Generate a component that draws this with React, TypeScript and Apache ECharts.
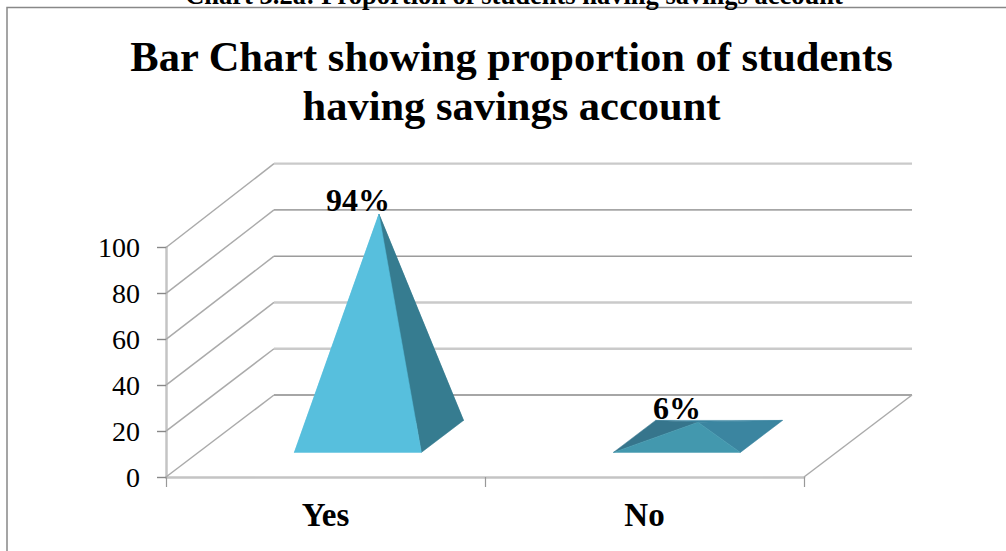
import React, { useEffect, useRef } from "react";
import * as echarts from "echarts";

const captionText = "Chart 3.2a: Proportion of students having savings account";
const titleText = "Bar Chart showing proportion of students\nhaving savings account";
const categories = ["Yes", "No"];
const percentValues = [94, 6];
const axisTicks = [0, 20, 40, 60, 80, 100];

const SERIF = '"Liberation Serif", "Times New Roman", serif';
const DEPTH_X = 108;
const DEPTH_Y = 82;
const BACK_SCALE = 1.008;
const HEIGHT_SCALE = 1.03;
const FLOOR_NEAR = 0.3;
const FLOOR_FAR = 0.69;
const BAR_RATIO = 0.398;
const TALL_COLORS = { front: "#57BFDD", left: "#57BFDD", right: "#367C90" };
const FLAT_COLORS = { front: "#4398AE", left: "#36758C", right: "#3B85A0" };
const WALL_STYLE: Record<number, { stroke: string; lineWidth: number }> = {
  0: { stroke: "#A6A6A6", lineWidth: 1.8 },
  20: { stroke: "#CACACA", lineWidth: 2.4 },
  40: { stroke: "#CACACA", lineWidth: 2.4 },
  60: { stroke: "#9C9C9C", lineWidth: 1.6 },
  80: { stroke: "#A6A6A6", lineWidth: 1.8 },
  100: { stroke: "#CACACA", lineWidth: 2.4 },
};

export default function App() {
  const ref = useRef<HTMLDivElement>(null);
  useEffect(() => {
    document.body.style.margin = "0";
    const chart = echarts.init(ref.current!, null, { renderer: "svg" });
    chart.setOption({
      animation: false,
      backgroundColor: "#fff",
      title: [
        {
          text: captionText,
          left: 509,
          top: -24,
          textAlign: "center",
          textStyle: { fontFamily: SERIF, fontSize: 26.5, fontWeight: "bold", color: "#000" },
        },
        {
          text: titleText,
          left: 506.5,
          top: 27,
          textAlign: "center",
          textStyle: { fontFamily: SERIF, fontSize: 42.5, fontWeight: "bold", color: "#000", lineHeight: 49 },
        },
      ],
      graphic: [
        {
          type: "polyline",
          shape: { points: [[7, 551], [7, 7.5], [1006, 7.5]] },
          style: { stroke: "#888", lineWidth: 1.5, fill: "none" },
        },
      ],
      grid: { left: 166, right: 202, top: 247.5, height: 229.5 },
      xAxis: {
        type: "category",
        data: categories,
        axisLine: { show: true, lineStyle: { color: "#C4C4C4", width: 2.5 } },
        axisTick: { show: true, length: 10, lineStyle: { color: "#999", width: 1.2 } },
        axisLabel: { fontFamily: SERIF, fontSize: 33, fontWeight: "bold", color: "#000", margin: 21 },
      },
      yAxis: {
        type: "value",
        min: 0,
        max: 100,
        interval: 20,
        splitLine: { show: false },
        axisLine: { show: true, lineStyle: { color: "#C4C4C4", width: 2.5 } },
        axisTick: { show: true, length: 9, lineStyle: { color: "#888", width: 1.4 } },
        axisLabel: { fontFamily: SERIF, fontSize: 28, color: "#000", margin: 26, padding: [7, 0, 0, 0] },
      },
      series: [
        {
          type: "custom",
          coordinateSystem: "cartesian2d",
          z: 1,
          silent: true,
          clip: false,
          encode: { x: 0, y: 1 },
          data: axisTicks.map((t) => [0, t]),
          renderItem: (_p: any, api: any) => {
            const v = api.value(1);
            const band = api.size([1, 0])[0];
            const [cx, y] = api.coord([0, v]);
            const [, y0] = api.coord([0, 0]);
            const [cxEnd] = api.coord([1, 0]);
            const xL = cx - band / 2;
            const xR = cxEnd + band / 2;
            const yBack = y0 - DEPTH_Y - (y0 - y) * BACK_SCALE;
            const children: any[] = [
              {
                type: "line",
                shape: { x1: xL, y1: y, x2: xL + DEPTH_X, y2: yBack },
                style: { stroke: "#ABABAB", lineWidth: 1.5 },
              },
              {
                type: "line",
                shape: { x1: xL + DEPTH_X, y1: yBack, x2: xR + DEPTH_X, y2: yBack },
                style: WALL_STYLE[v],
              },
            ];
            if (v === 0) {
              children.push({
                type: "line",
                shape: { x1: xR, y1: y0, x2: xR + DEPTH_X, y2: yBack },
                style: { stroke: "#ABABAB", lineWidth: 1.5 },
              });
            }
            return { type: "group", children };
          },
        },
        {
          type: "custom",
          coordinateSystem: "cartesian2d",
          z: 3,
          silent: true,
          clip: false,
          encode: { x: 0, y: 1 },
          data: percentValues.map((v, i) => [i, v]),
          renderItem: (_p: any, api: any) => {
            const idx = api.value(0);
            const v = api.value(1);
            const band = api.size([1, 0])[0];
            const half = (band * BAR_RATIO) / 2;
            const [cx, y0] = api.coord([idx, 0]);
            const [, yV] = api.coord([idx, v]);
            const colors = v > 50 ? TALL_COLORS : FLAT_COLORS;
            const pt = (f: number, side: number): number[] => [
              cx + f * DEPTH_X + side * half,
              y0 - f * DEPTH_Y,
            ];
            const fl = pt(FLOOR_NEAR, -1);
            const fr = pt(FLOOR_NEAR, 1);
            const bl = pt(FLOOR_FAR, -1);
            const br = pt(FLOOR_FAR, 1);
            const mid = pt((FLOOR_NEAR + FLOOR_FAR) / 2, 0);
            const apex = [mid[0], mid[1] - (y0 - yV) * HEIGHT_SCALE];
            const tri = (points: number[][], fill: string) => ({
              type: "polygon",
              shape: { points },
              style: { fill, stroke: fill, lineWidth: 0.5 },
            });
            const labelX = cx + 32.5;
            const labelY = apex[1] + 2;
            return {
              type: "group",
              children: [
                tri([bl, br, apex], colors.right),
                tri([fl, bl, apex], colors.left),
                tri([fr, br, apex], colors.right),
                tri([fl, fr, apex], colors.front),
                {
                  type: "text",
                  z2: 10,
                  style: {
                    x: labelX,
                    y: labelY,
                    text: `${v}%`,
                    fontFamily: SERIF,
                    fontSize: 32,
                    fontWeight: "bold",
                    fill: "#000",
                    align: "center",
                    verticalAlign: "bottom",
                  },
                },
              ],
            };
          },
        },
      ],
    });
    return () => chart.dispose();
  }, []);
  return <div ref={ref} style={{ position: "absolute", left: 0, top: 0, width: 1006, height: 551 }} />;
}
